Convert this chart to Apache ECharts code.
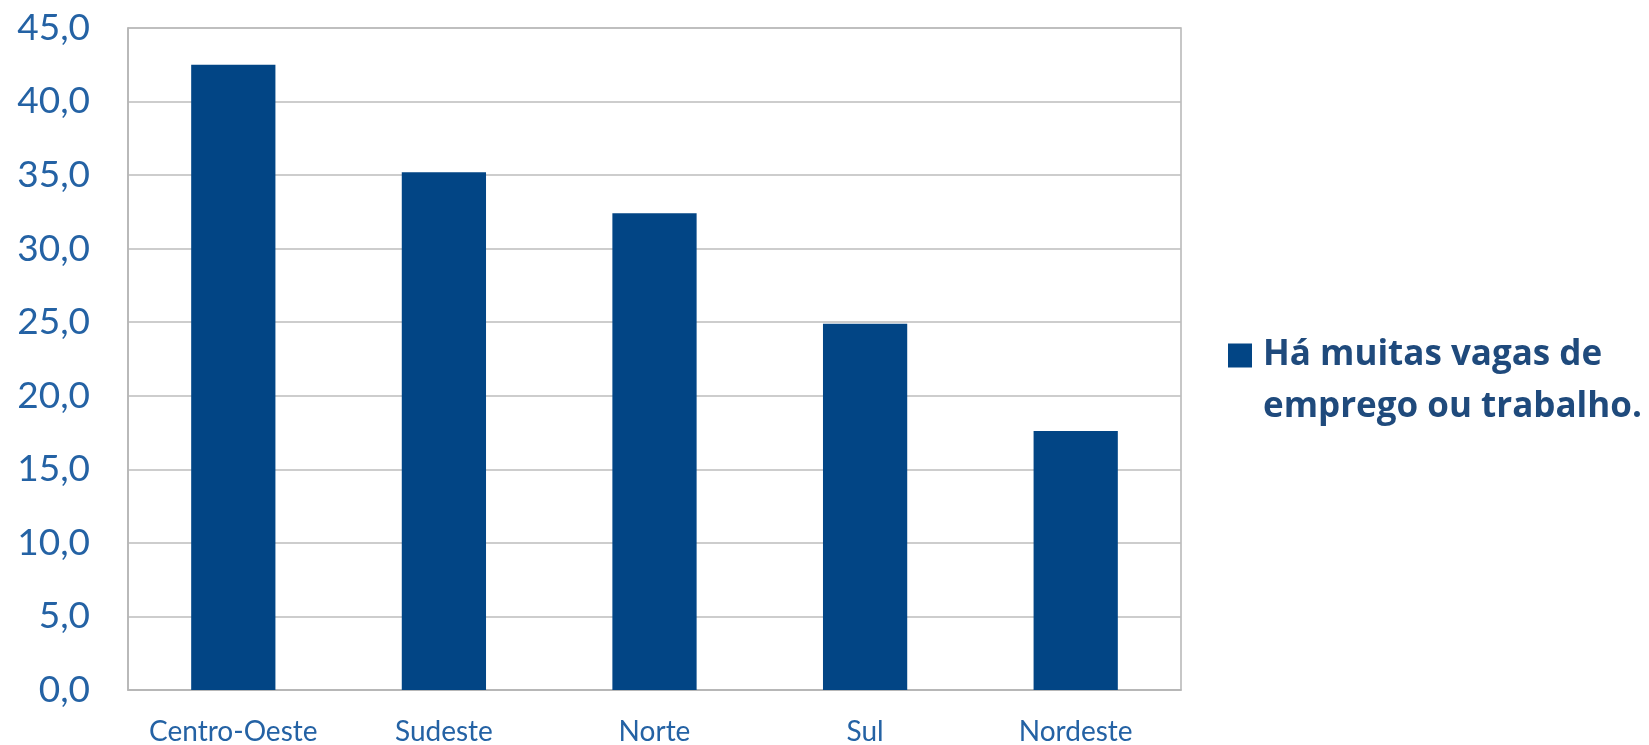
<!DOCTYPE html>
<html>
<head>
<meta charset="utf-8">
<script src="https://cdn.jsdelivr.net/npm/echarts@6/dist/echarts.min.js"></script>
<style>
html,body{margin:0;padding:0;background:#fff;}
#chart{width:1649px;height:745px;}
</style>
</head>
<body>
<div id="chart"></div>
<script>
const categories = ["Centro-Oeste", "Sudeste", "Norte", "Sul", "Nordeste"];
const values = [42.5, 35.2, 32.4, 24.9, 17.6];
const seriesName = "Há muitas vagas de emprego ou trabalho.";
const legendLines = ["Há muitas vagas de", "emprego ou trabalho."];

const legendText = {
  fontFamily: 'Open Sans', fontWeight: 'bold', fontSize: 35,
  color: '#1F4A7C', lineHeight: 24, padding: [0, 0, 0, 6]
};

const chart = echarts.init(document.getElementById('chart'), null, {renderer: 'canvas'});
chart.setOption({
  animation: false,
  backgroundColor: '#ffffff',
  grid: {
    left: 128, right: 468, top: 28, bottom: 55,
    outerBoundsMode: 'none',
    show: true, borderColor: '#b5b5b5', borderWidth: 1.5
  },
  legend: [{
    left: 1228, top: 338, padding: 0,
    itemWidth: 24, itemHeight: 24,
    icon: 'rect',
    selectedMode: false,
    data: [{name: seriesName}],
    formatter: function () { return legendLines[0]; },
    textStyle: legendText
  }, {
    left: 1228, top: 390, padding: 0,
    itemWidth: 24, itemHeight: 24,
    icon: 'rect',
    selectedMode: false,
    data: [{name: seriesName, itemStyle: {opacity: 0}}],
    formatter: function () { return legendLines[1]; },
    textStyle: legendText
  }],
  xAxis: {
    type: 'category',
    data: categories,
    axisLine: {lineStyle: {color: '#b5b5b5', width: 1.5}},
    axisTick: {show: false},
    axisLabel: {
      interval: 0,
      fontFamily: 'Lato', fontSize: 28, color: '#2462A4', margin: 28
    }
  },
  yAxis: {
    type: 'value',
    min: 0, max: 45, interval: 5,
    axisLine: {show: true, lineStyle: {color: '#b5b5b5', width: 1.5}},
    axisTick: {show: false},
    splitLine: {lineStyle: {color: '#bcbcbc', width: 1.5}},
    axisLabel: {
      fontFamily: 'Lato', fontSize: 37, color: '#2462A4', margin: 38,
      formatter: function (v) { return v.toFixed(1).replace('.', ','); }
    }
  },
  series: [{
    name: seriesName,
    type: 'bar',
    data: values,
    barWidth: '40%',
    itemStyle: {color: '#024585'}
  }]
});
</script>
</body>
</html>
